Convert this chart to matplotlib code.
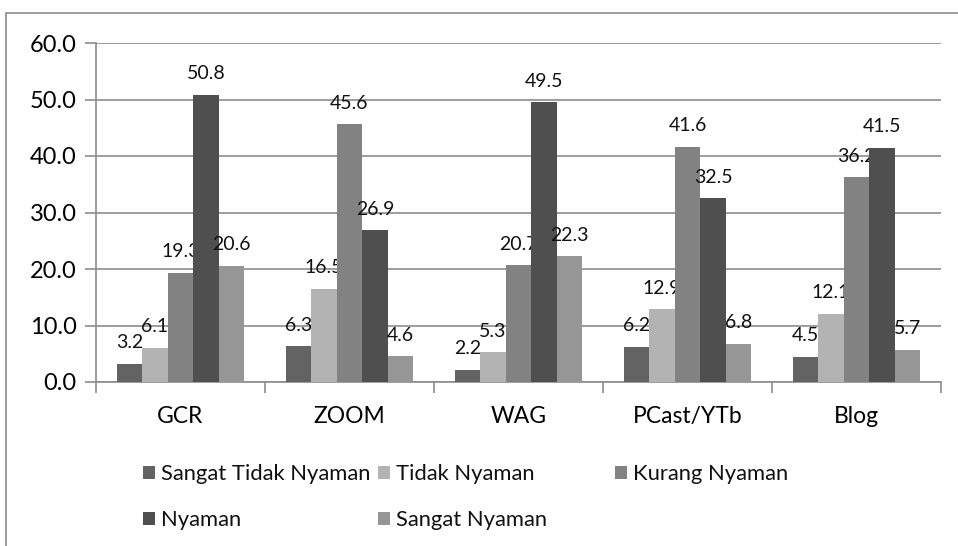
import numpy as np
import matplotlib.pyplot as plt
from matplotlib.patches import Rectangle

plt.rcParams['font.family'] = ['Lato', 'DejaVu Sans']

# data
kategori = ['GCR', 'ZOOM', 'WAG', 'PCast/YTb', 'Blog']
seri = ['Sangat Tidak Nyaman', 'Tidak Nyaman', 'Kurang Nyaman', 'Nyaman', 'Sangat Nyaman']
sangat_tidak = [3.2, 6.3, 2.2, 6.2, 4.5]
tidak = [6.1, 16.5, 5.3, 12.9, 12.1]
kurang = [19.3, 45.6, 20.7, 41.6, 36.2]
nyaman = [50.8, 26.9, 49.5, 32.5, 41.5]
sangat_nyaman = [20.6, 4.6, 22.3, 6.8, 5.7]
warna = ['#636363', '#b3b3b3', '#828282', '#4f4f4f', '#969696']

nilai = [sangat_tidak, tidak, kurang, nyaman, sangat_nyaman]

W, H = 958, 546
fig = plt.figure(figsize=(W / 100, H / 100), dpi=100)
# chart border
fig.patches.append(Rectangle((6 / W, -0.05), (W - 5) / W, 1 - 13 / H + 0.05,
                             transform=fig.transFigure, fill=False,
                             edgecolor='#8c8c8c', linewidth=1.2))

ax = fig.add_axes([96 / W, 1 - 382 / H, (941 - 96) / W, (382 - 43) / H])
x = np.arange(len(kategori))
lebar = 0.151
for i, (vals, c) in enumerate(zip(nilai, warna)):
    pos = x + (i - 2) * lebar
    ax.bar(pos, vals, lebar, color=c, zorder=3)
    for p, v in zip(pos, vals):
        ax.annotate(f'{v:.1f}', (p, v), xytext=(0, 9), textcoords='offset points',
                    ha='center', va='bottom', fontsize=14, color='#111111')

ax.set_xlim(-0.5, len(kategori) - 0.5)
ax.set_ylim(0, 60)
ax.set_yticks(np.arange(0, 61, 10))
ax.set_yticklabels([f'{t:.1f}' for t in np.arange(0, 61, 10)], fontsize=17)
ax.grid(axis='y', color='#8c8c8c', linewidth=1.2, zorder=0)
ax.tick_params(axis='y', length=8, color='#8c8c8c', width=1.2, pad=6)

ax.set_xticks(x)
ax.set_xticklabels(kategori, fontsize=16.5)
ax.tick_params(axis='x', which='major', length=0, pad=17)
ax.set_xticks(np.arange(-0.5, len(kategori)), minor=True)
ax.tick_params(axis='x', which='minor', length=8, color='#8c8c8c', width=1.2)

for s in ['top', 'right']:
    ax.spines[s].set_visible(False)
for s in ['left', 'bottom']:
    ax.spines[s].set_color('#8c8c8c')
    ax.spines[s].set_linewidth(1.2)

# legend laid out like the original
tata = [(143, 473), (378, 473), (615, 473), (143, 519), (378, 519)]
for nama, c, (lx, ly) in zip(seri, warna, tata):
    fig.patches.append(Rectangle((lx / W, 1 - (ly + 6) / H), 12 / W, 13 / H,
                                 transform=fig.transFigure, facecolor=c, edgecolor='none'))
    fig.text((lx + 18) / W, 1 - (ly + 1) / H, nama, fontsize=15.8, va='center', ha='left',
             color='#111111')

fig.savefig('out.png', dpi=100)
